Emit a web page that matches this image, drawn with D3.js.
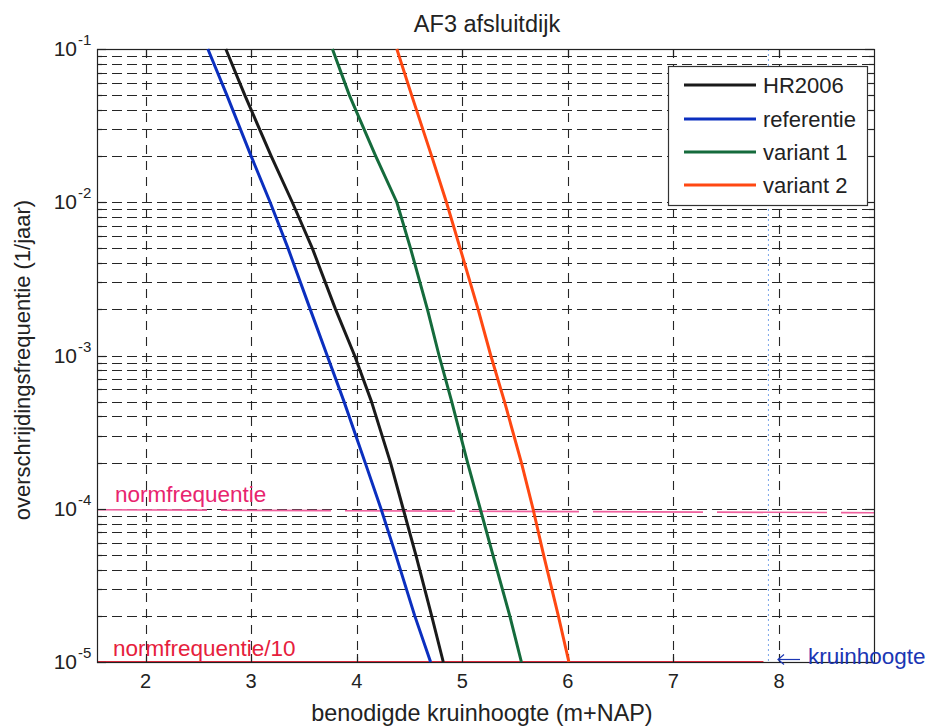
<!DOCTYPE html>
<html>
<head>
<meta charset="utf-8">
<script src="https://cdn.jsdelivr.net/npm/d3@7/dist/d3.min.js"></script>
<style>
  html, body { margin: 0; padding: 0; background: #fff; }
  svg { display: block; font-family: "Liberation Sans", Arial, Helvetica, sans-serif; }
</style>
</head>
<body>
<svg id="chart" width="931" height="727"></svg>
<script>
// Exceedance frequencies (1/jaar) at which the crest heights are given
const freqs = [1e-1, 5e-2, 2e-2, 1e-2, 5e-3, 2e-3, 1e-3, 5e-4, 2e-4, 1e-4, 5e-5, 2e-5, 1e-5];

// Required crest height (m+NAP) per series, one value per frequency
const hr2006     = [2.76, 2.94, 3.19, 3.39, 3.58, 3.80, 3.98, 4.14, 4.32, 4.44, 4.56, 4.71, 4.82];
const referentie = [2.59, 2.77, 3.00, 3.18, 3.35, 3.56, 3.72, 3.88, 4.08, 4.23, 4.37, 4.55, 4.70];
const variant1   = [3.77, 3.93, 4.18, 4.38, 4.51, 4.67, 4.78, 4.90, 5.05, 5.17, 5.29, 5.45, 5.56];
const variant2   = [4.38, 4.52, 4.71, 4.85, 4.98, 5.15, 5.27, 5.40, 5.56, 5.67, 5.77, 5.91, 6.01];

const seriesNames  = ["HR2006", "referentie", "variant 1", "variant 2"];
const seriesValues = [hr2006, referentie, variant1, variant2];
const seriesColors = ["#1a1a1a", "#0b2fbf", "#156b3c", "#ff4812"];

const xTicks = [2, 3, 4, 5, 6, 7, 8];
const yDecades = [1e-1, 1e-2, 1e-3, 1e-4, 1e-5];

const normFreq = 1e-4;
const kruinhoogte = 7.9;

const svg = d3.select("#chart");
const plotL = 97, plotR = 874, plotT = 49, plotB = 662;

const x = d3.scaleLinear().domain([1.54, 8.9]).range([plotL, plotR]);
const y = d3.scaleLog().domain([1e-5, 1e-1]).range([plotB, plotT]);

// grid: minor horizontal lines at 1..9 per decade, vertical lines at x ticks
const minorY = [];
for (let e = -5; e < -1; e++) {
  for (let m = 1; m <= 9; m++) minorY.push(m * Math.pow(10, e));
}
minorY.push(1e-1);

const grid = svg.append("g").attr("stroke", "#262626").attr("stroke-width", 1.1).attr("fill", "none");
grid.selectAll("line.h").data(minorY.filter(v => v > 1e-5 && v < 1e-1)).join("line")
  .attr("class", "h")
  .attr("x1", plotL).attr("x2", plotR)
  .attr("y1", d => Math.round(y(d)) + 0.5).attr("y2", d => Math.round(y(d)) + 0.5)
  .attr("stroke-dasharray", "10,5");
grid.selectAll("line.v").data(xTicks).join("line")
  .attr("class", "v")
  .attr("x1", d => Math.round(x(d)) + 0.5).attr("x2", d => Math.round(x(d)) + 0.5)
  .attr("y1", plotT).attr("y2", plotB)
  .attr("stroke-dasharray", "9,7");

// kruinhoogte marker (thin dotted blue vertical)
svg.append("line")
  .attr("x1", x(kruinhoogte)).attr("x2", x(kruinhoogte))
  .attr("y1", plotT).attr("y2", plotB)
  .attr("stroke", "#7aa6ea").attr("stroke-width", 1)
  .attr("stroke-dasharray", "2,3");
svg.append("line")
  .attr("x1", x(kruinhoogte) - 5).attr("x2", plotR)
  .attr("y1", plotB + 0.5).attr("y2", plotB + 0.5)
  .attr("stroke", "#4060c8").attr("stroke-width", 1.2);

// normfrequentie line at 1e-4
svg.append("line")
  .attr("x1", plotL).attr("x2", plotR)
  .attr("y1", y(normFreq) + 1).attr("y2", y(normFreq) + 4)
  .attr("stroke", "#f0609e").attr("stroke-width", 1.6)
  .attr("stroke-dasharray", "110,14");

// normfrequentie/10 line at 1e-5
svg.append("line")
  .attr("x1", plotL).attr("x2", x(kruinhoogte) - 5)
  .attr("y1", y(normFreq / 10)).attr("y2", y(normFreq / 10))
  .attr("stroke", "#e8283c").attr("stroke-width", 2);

// axes frame
svg.append("rect")
  .attr("x", plotL + 0.5).attr("y", plotT + 0.5)
  .attr("width", plotR - plotL).attr("height", plotB - plotT)
  .attr("fill", "none").attr("stroke", "#222").attr("stroke-width", 1.2);

// inside tick marks
const ticks = svg.append("g").attr("stroke", "#222").attr("stroke-width", 1.2);
minorY.forEach(v => {
  const yy = Math.round(y(v)) + 0.5;
  const len = yDecades.includes(v) ? 9 : 5;
  ticks.append("line").attr("x1", plotL).attr("x2", plotL + len).attr("y1", yy).attr("y2", yy);
  ticks.append("line").attr("x1", plotR - len).attr("x2", plotR).attr("y1", yy).attr("y2", yy);
});
xTicks.forEach(v => {
  const xx = Math.round(x(v)) + 0.5;
  ticks.append("line").attr("x1", xx).attr("x2", xx).attr("y1", plotB).attr("y2", plotB - 8);
  ticks.append("line").attr("x1", xx).attr("x2", xx).attr("y1", plotT).attr("y2", plotT + 8);
});

// series lines
const line = d3.line().x(d => x(d[0])).y(d => y(d[1]));
seriesValues.forEach((vals, i) => {
  svg.append("path")
    .datum(vals.map((v, j) => [v, freqs[j]]))
    .attr("d", line)
    .attr("fill", "none")
    .attr("stroke", seriesColors[i])
    .attr("stroke-width", 3)
    .attr("stroke-linejoin", "round");
});

// x tick labels
svg.append("g").selectAll("text").data(xTicks).join("text")
  .attr("x", d => x(d)).attr("y", 688)
  .attr("text-anchor", "middle")
  .attr("font-size", 20).attr("fill", "#222")
  .text(d => d);

// y tick labels (10 with superscript exponent)
const yl = svg.append("g").attr("fill", "#222");
yDecades.forEach(v => {
  const yy = y(v);
  const exp = Math.round(Math.log10(v));
  yl.append("text").attr("x", 77).attr("y", yy + 7).attr("text-anchor", "end")
    .attr("font-size", 21).text("10");
  yl.append("text").attr("x", 78).attr("y", yy - 4).attr("text-anchor", "start")
    .attr("font-size", 15).text(String(exp));
});

// title and axis labels
svg.append("text").attr("x", 487).attr("y", 32).attr("text-anchor", "middle")
  .attr("font-size", 23.5).attr("fill", "#222").text("AF3 afsluitdijk");
svg.append("text").attr("x", 482).attr("y", 721).attr("text-anchor", "middle")
  .attr("font-size", 23.4).attr("fill", "#222").text("benodigde kruinhoogte (m+NAP)");
svg.append("text")
  .attr("transform", "translate(30,360) rotate(-90)")
  .attr("text-anchor", "middle")
  .attr("font-size", 22).attr("fill", "#222").text("overschrijdingsfrequentie (1/jaar)");

// annotations
svg.append("text").attr("x", 115).attr("y", 502)
  .attr("font-size", 22.5).attr("fill", "#e8246e").text("normfrequentie");
svg.append("text").attr("x", 113).attr("y", 656)
  .attr("font-size", 22.5).attr("fill", "#e6203c").text("normfrequentie/10");

// kruinhoogte label with arrow
const kr = svg.append("g").attr("stroke", "#1b36b4").attr("stroke-width", 1.2).attr("fill", "none");
kr.append("path").attr("d", "M778,659.5 H800");
kr.append("path").attr("d", "M784,654.5 L778,659.5 L784,664.5");
svg.append("text").attr("x", 808).attr("y", 664)
  .attr("font-size", 22.5).attr("fill", "#1b36b4").text("kruinhoogte");

// legend
const lg = svg.append("g");
lg.append("rect").attr("x", 668.5).attr("y", 66.5).attr("width", 199).attr("height", 139)
  .attr("fill", "#fff").attr("stroke", "#333").attr("stroke-width", 1.2);
const rowY = [85, 119, 152, 185];
seriesNames.forEach((name, i) => {
  lg.append("line").attr("x1", 684).attr("x2", 756).attr("y1", rowY[i]).attr("y2", rowY[i])
    .attr("stroke", seriesColors[i]).attr("stroke-width", 3);
  lg.append("text").attr("x", 763).attr("y", rowY[i] + 8)
    .attr("font-size", 22).attr("fill", "#222").text(name);
});
</script>
</body>
</html>
